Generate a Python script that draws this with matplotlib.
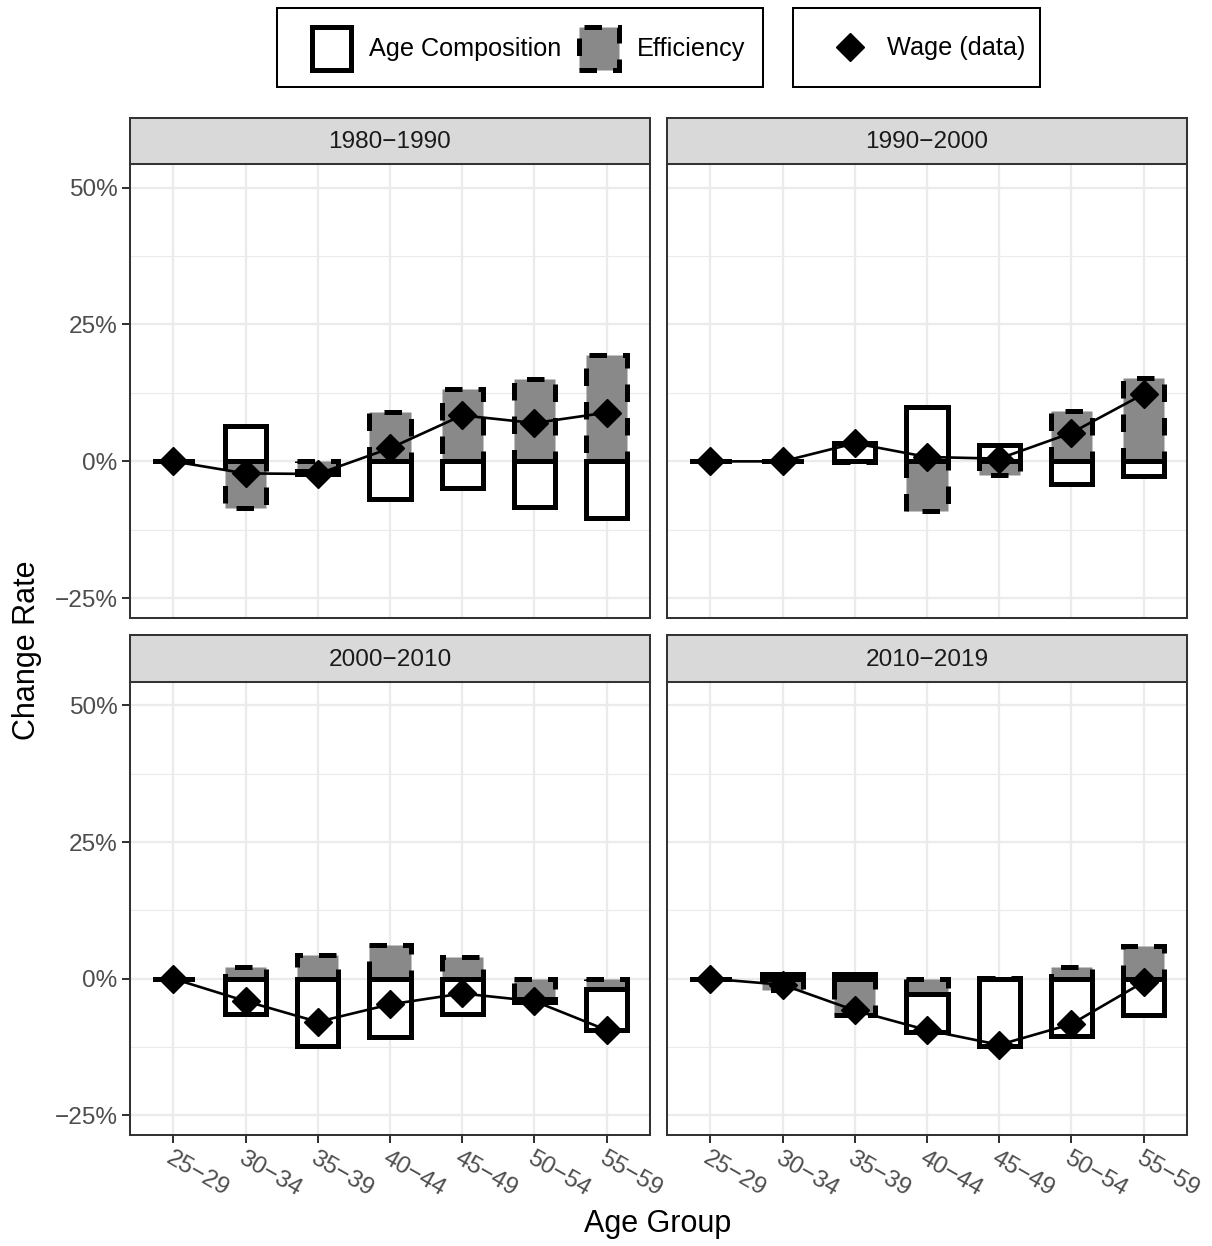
import matplotlib
matplotlib.use('Agg')
import matplotlib.pyplot as plt
import numpy as np
from matplotlib.patches import Patch, Rectangle
from matplotlib.lines import Line2D
from matplotlib.ticker import FixedLocator

plt.rcParams['font.family'] = ['Liberation Sans', 'DejaVu Sans']

# ---------------- data ----------------
age_groups = ['25−29', '30−34', '35−39', '40−44', '45−49', '50−54', '55−59']
periods = ['1980−1990', '1990−2000', '2000−2010', '2010−2019']

comp_1980 = [0, 6.4, -0.5, -6.8, -4.9, -8.4, -10.4]
eff_1980 = [0, -8.6, -1.8, 9.1, 13.2, 15.0, 19.5]
wage_1980 = [0, -2.2, -2.3, 2.4, 8.4, 7.0, 8.9]

comp_1990 = [0, 0, 3.3, 9.9, 3.0, -4.1, -2.7]
eff_1990 = [0, 0, -0.1, -9.0, -2.4, 9.2, 15.2]
wage_1990 = [0, 0, 3.3, 0.8, 0.5, 5.2, 12.3]

comp_2000 = [0, -6.5, -12.3, -10.7, -6.5, -0.4, -7.6]
eff_2000 = [0, 2.1, 4.4, 6.2, 3.9, -3.8, -1.8]
wage_2000 = [0, -4.1, -7.9, -4.7, -2.7, -4.1, -9.4]

comp_2010 = [0, 0.9, 0.8, -6.9, -12.3, -10.5, -6.7]
eff_2010 = [0, -2.1, -6.6, -2.8, 0.2, 2.2, 5.9]
wage_2010 = [0, -1.1, -5.8, -9.4, -12.1, -8.3, -0.6]

comps = [comp_1980, comp_1990, comp_2000, comp_2010]
effs = [eff_1980, eff_1990, eff_2000, eff_2010]
wages = [wage_1980, wage_1990, wage_2000, wage_2010]

yticks = [-25, 0, 25, 50]
yminor = [-12.5, 12.5, 37.5]

# ---------------- style ----------------
GRAY_FILL = '#898989'
BORDER = '#333333'
GRID = '#EBEBEB'
TICKTXT = '#4D4D4D'
FS = 17.6
LEG_FS = 18.2
BAR_LW = 3.6
DASH = (0, (3.5, 3.2))
BAR_W = 0.57

W, H = 1212, 1246
fig = plt.figure(figsize=(W / 100, H / 100), dpi=100)


def add_ax(x0, y0, x1, y1):
    return fig.add_axes([x0 / W, 1 - y1 / H, (x1 - x0) / W, (y1 - y0) / H])


cols = [(130, 650), (667, 1187)]
rows = [(118, 164, 618), (635, 682, 1135)]

for i in range(4):
    r, c = divmod(i, 2)
    x0, x1 = cols[c]
    st, pt, pb = rows[r]
    ax = add_ax(x0, pt, x1, pb)
    x = np.arange(1, len(age_groups) + 1)
    comp = np.array(comps[i], dtype=float)
    eff = np.array(effs[i], dtype=float)
    wage = np.array(wages[i], dtype=float)

    same = ((comp >= 0) & (eff > 0)) | ((comp < 0) & (eff < 0))
    comp_bottom = np.where(same, eff, 0.0)

    ax.bar(x, eff, width=BAR_W, bottom=0, facecolor=GRAY_FILL,
           edgecolor='black', linewidth=BAR_LW, linestyle=DASH, zorder=2)
    ax.bar(x, comp, width=BAR_W, bottom=comp_bottom, facecolor='white',
           edgecolor='black', linewidth=BAR_LW, zorder=2.1)
    ax.plot(x, wage, color='black', lw=1.9, zorder=3)
    ax.plot(x, wage, linestyle='none', marker='D', ms=14.3, color='black', zorder=4)

    ax.set_xlim(0.4, len(age_groups) + 0.6)
    ax.set_ylim(-28.6, 54.3)
    ax.set_xticks(x)
    ax.set_yticks(yticks)
    ax.yaxis.set_minor_locator(FixedLocator(yminor))
    ax.set_axisbelow(True)
    ax.grid(which='major', color=GRID, lw=1.65)
    ax.grid(which='minor', axis='y', color=GRID, lw=0.85)
    ax.tick_params(which='minor', length=0)
    for s in ax.spines.values():
        s.set_color(BORDER)
        s.set_linewidth(1.45)
    ax.tick_params(which='major', color=BORDER, width=1.45, length=5.5,
                   labelsize=FS, labelcolor=TICKTXT, pad=3.6)
    if c == 0:
        ax.set_yticklabels([f'{v}%'.replace('-', '−') for v in yticks])
    else:
        ax.tick_params(axis='y', length=0, labelleft=False)
    if r == 1:
        ax.set_xticklabels(age_groups, rotation=-30, ha='left', va='top',
                           rotation_mode='anchor')
    else:
        ax.tick_params(axis='x', length=0, labelbottom=False)

    sax = add_ax(x0, st, x1, pt)
    sax.set_facecolor('#D9D9D9')
    sax.set_xticks([])
    sax.set_yticks([])
    for s in sax.spines.values():
        s.set_color(BORDER)
        s.set_linewidth(1.45)
    sax.text(0.5, 0.47, periods[i], ha='center', va='center', fontsize=FS,
             color='#1A1A1A', transform=sax.transAxes)

# axis titles
fig.text(658 / W, 1 - 1224 / H, 'Age Group', ha='center', va='center', fontsize=22)
fig.text(27 / W, 1 - 650 / H, 'Change Rate', ha='center', va='center', fontsize=22,
         rotation=90)

# legend frames
for (lx0, lx1) in [(277, 763), (793, 1040)]:
    fig.patches.append(Rectangle((lx0 / W, 1 - 87 / H), (lx1 - lx0) / W, 79 / H,
                                 transform=fig.transFigure, fill=False,
                                 edgecolor='black', linewidth=1.45))

h_comp = Patch(facecolor='white', edgecolor='black', linewidth=BAR_LW)
h_eff = Patch(facecolor=GRAY_FILL, edgecolor='black', linewidth=BAR_LW, linestyle=DASH)
fig.legend([h_comp, h_eff], ['Age Composition', 'Efficiency'], ncol=2,
           loc='center left', bbox_to_anchor=(312 / W, 1 - 48.5 / H),
           frameon=False, fontsize=LEG_FS, handlelength=1.55, handleheight=2.25,
           handletextpad=0.72, columnspacing=0.7, borderpad=0, borderaxespad=0)
h_wage = Line2D([], [], linestyle='none', marker='D', ms=14.3, color='black')
fig.legend([h_wage], ['Wage (data)'], loc='center left',
           bbox_to_anchor=(830 / W, 1 - 48.5 / H), frameon=False, fontsize=LEG_FS,
           handlelength=1.55, handletextpad=0.72, borderpad=0, borderaxespad=0)

fig.savefig('out.png', dpi=100)
